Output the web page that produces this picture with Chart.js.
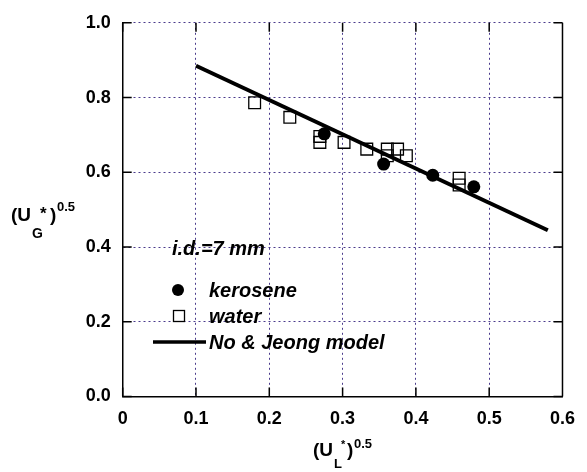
<!DOCTYPE html>
<html>
<head>
<meta charset="utf-8">
<script src="https://cdn.jsdelivr.net/npm/chart.js@4"></script>
<style>
  html, body { margin: 0; padding: 0; background: #fff; }
  #wrap { width: 587px; height: 472px; }
</style>
</head>
<body>
<div id="wrap"><canvas id="chart" width="587" height="472"></canvas></div>
<script>
// values
const keroseneX = [0.275, 0.356, 0.423, 0.479];
const keroseneY = [0.703, 0.622, 0.592, 0.561];
const waterX = [0.180, 0.228, 0.269, 0.269, 0.302, 0.333, 0.361, 0.361, 0.375, 0.387, 0.459, 0.459];
const waterY = [0.786, 0.747, 0.696, 0.680, 0.680, 0.662, 0.662, 0.644, 0.662, 0.644, 0.584, 0.566];
const modelX = [0.1, 0.58];
const modelY = [0.885, 0.445];
const xTicks = [0, 0.1, 0.2, 0.3, 0.4, 0.5, 0.6];
const yTicks = [0.0, 0.2, 0.4, 0.6, 0.8, 1.0];

const FONT = "'Liberation Sans', Arial, sans-serif";
const gridColor = '#4b3b8c';

const toPts = (xs, ys) => xs.map((x, i) => ({ x: x, y: ys[i] }));

// inner ticks, right border, axis titles and the in-plot legend
const decorations = {
  id: 'decorations',
  afterDraw(chart) {
    const ctx = chart.ctx;
    const a = chart.chartArea;
    const xs = chart.scales.x, ys = chart.scales.y;
    const tl = 9;
    ctx.save();
    ctx.strokeStyle = '#000';
    ctx.lineWidth = 1.5;
    ctx.beginPath();
    ctx.moveTo(a.right, a.top);
    ctx.lineTo(a.right, a.bottom);
    xTicks.forEach(v => {
      const px = xs.getPixelForValue(v);
      ctx.moveTo(px, a.bottom); ctx.lineTo(px, a.bottom - tl);
      ctx.moveTo(px, a.top); ctx.lineTo(px, a.top + tl);
    });
    yTicks.forEach(v => {
      const py = ys.getPixelForValue(v);
      ctx.moveTo(a.left, py); ctx.lineTo(a.left + tl, py);
      ctx.moveTo(a.right, py); ctx.lineTo(a.right - tl, py);
    });
    ctx.stroke();

    ctx.fillStyle = '#000';
    ctx.textBaseline = 'alphabetic';
    ctx.textAlign = 'left';

    // x title (U_L*)^0.5
    ctx.font = 'bold 19px ' + FONT;
    ctx.fillText('(U', 313, 456);
    ctx.font = 'bold 13px ' + FONT;
    ctx.fillText('L', 334, 468);
    ctx.font = 'bold 11px ' + FONT;
    ctx.fillText('*', 341, 448);
    ctx.font = 'bold 19px ' + FONT;
    ctx.fillText(')', 347, 456);
    ctx.font = 'bold 13px ' + FONT;
    ctx.fillText('0.5', 354, 448);

    // y title (U_G*)^0.5
    ctx.font = 'bold 19px ' + FONT;
    ctx.fillText('(U', 11, 221);
    ctx.font = 'bold 14px ' + FONT;
    ctx.fillText('G', 32, 238);
    ctx.font = 'bold 17px ' + FONT;
    ctx.fillText('*', 40, 219);
    ctx.font = 'bold 19px ' + FONT;
    ctx.fillText(')', 50, 221);
    ctx.font = 'bold 13px ' + FONT;
    ctx.fillText('0.5', 57, 211);

    // legend
    ctx.font = 'italic bold 20px ' + FONT;
    ctx.textBaseline = 'middle';
    ctx.fillText('i.d.=7 mm', 172, 249);
    ctx.fillText('kerosene', 209, 291);
    ctx.fillText('water', 209, 317);
    ctx.fillText('No & Jeong model', 209, 343);

    ctx.beginPath();
    ctx.arc(178, 290, 6, 0, Math.PI * 2);
    ctx.fill();
    ctx.lineWidth = 1.3;
    ctx.strokeRect(173.5, 310.5, 11, 11);
    ctx.lineWidth = 3.5;
    ctx.beginPath();
    ctx.moveTo(153, 342);
    ctx.lineTo(206, 342);
    ctx.stroke();
    ctx.restore();
  }
};

new Chart(document.getElementById('chart'), {
  type: 'scatter',
  data: {
    datasets: [
      {
        label: 'kerosene',
        data: toPts(keroseneX, keroseneY),
        pointStyle: 'circle',
        pointRadius: 6.5,
        backgroundColor: '#000',
        borderColor: '#000',
        borderWidth: 0
      },
      {
        label: 'No & Jeong model',
        type: 'line',
        data: toPts(modelX, modelY),
        borderColor: '#000',
        borderWidth: 4,
        pointRadius: 0,
        fill: false
      },
      {
        label: 'water',
        data: toPts(waterX, waterY),
        pointStyle: 'rect',
        pointRadius: 8.3,
        backgroundColor: 'rgba(0,0,0,0)',
        borderColor: '#000',
        borderWidth: 1.3
      }
    ]
  },
  options: {
    responsive: false,
    animation: false,
    layout: { padding: { top: 20, right: 14.3, left: 0, bottom: 0 } },
    plugins: {
      legend: { display: false },
      tooltip: { enabled: false }
    },
    scales: {
      x: {
        type: 'linear',
        min: 0, max: 0.6,
        afterFit: s => { s.height = 75.5; },
        afterBuildTicks: s => { s.ticks = xTicks.map(v => ({ value: v })); },
        grid: { color: gridColor, lineWidth: 1, drawTicks: false },
        border: { display: true, color: '#000', width: 1.5, dash: [2, 3] },
        ticks: {
          padding: 12,
          color: '#000',
          font: { family: FONT, size: 18, weight: 'bold' },
          callback: v => (v === 0 ? '0' : v.toFixed(1))
        }
      },
      y: {
        type: 'linear',
        min: 0, max: 1,
        afterFit: s => { s.width = 122.7; },
        afterBuildTicks: s => { s.ticks = yTicks.map(v => ({ value: v })); },
        grid: { color: gridColor, lineWidth: 1, drawTicks: false },
        border: { display: true, color: '#000', width: 1.5, dash: [2, 3] },
        ticks: {
          padding: 12,
          color: '#000',
          font: { family: FONT, size: 18, weight: 'bold' },
          callback: v => v.toFixed(1)
        }
      }
    }
  },
  plugins: [decorations]
});
</script>
</body>
</html>
